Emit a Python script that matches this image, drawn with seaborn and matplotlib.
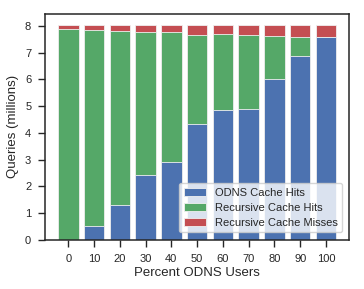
import numpy as np
import pandas as pd
import matplotlib
matplotlib.use('Agg')
import matplotlib.pyplot as plt
import seaborn as sns

# percent of users on ODNS
percent_odns = [0, 10, 20, 30, 40, 50, 60, 70, 80, 90, 100]
# queries in millions, one value per stacked segment
odns_cache_hits = [0.00, 0.51, 1.30, 2.43, 2.90, 4.34, 4.87, 4.90, 6.03, 6.88, 7.58]
recursive_cache_hits = [7.88, 7.34, 6.51, 5.36, 4.89, 3.32, 2.82, 2.76, 1.61, 0.72, 0.00]
recursive_cache_misses = [0.15, 0.18, 0.22, 0.24, 0.24, 0.37, 0.34, 0.37, 0.39, 0.43, 0.45]

sns.set_style('ticks')
plt.rcParams['font.family'] = ['Liberation Sans', 'DejaVu Sans']

blue, green, red = '#4C72B0', '#55A868', '#C44E52'

df = pd.DataFrame({
    'pct': [str(p) for p in percent_odns],
    'odns': odns_cache_hits,
    'rec': recursive_cache_hits,
    'miss': recursive_cache_misses,
})
# cumulative heights so bars can be drawn back to front
df['top_rec'] = df['odns'] + df['rec']
df['top_all'] = df['top_rec'] + df['miss']

fig = plt.figure(figsize=(3.64, 2.89), dpi=100)
ax = fig.add_axes([0.124, 0.170, 0.835, 0.782])

sns.barplot(data=df, x='pct', y='top_all', color=red, saturation=1, width=0.8,
            edgecolor='#f0f0f0', linewidth=0.6, label='Recursive Cache Misses', ax=ax)
sns.barplot(data=df, x='pct', y='top_rec', color=green, saturation=1, width=0.8,
            edgecolor='#f0f0f0', linewidth=0.6, label='Recursive Cache Hits', ax=ax)
sns.barplot(data=df, x='pct', y='odns', color=blue, saturation=1, width=0.8,
            edgecolor='#f0f0f0', linewidth=0.6, label='ODNS Cache Hits', ax=ax)

ax.set_xlim(-0.9, 10.9)
ax.set_ylim(0, 8.45)
ax.set_yticks(range(0, 9))
ax.set_xlabel('Percent ODNS Users', fontsize=9.5, color='#262626', labelpad=2)
ax.set_ylabel('Queries (millions)', fontsize=9.5, color='#262626', labelpad=4)
ax.tick_params(axis='both', labelsize=8, colors='#262626', length=5, width=1, pad=5)
for s in ax.spines.values():
    s.set_visible(True)
    s.set_linewidth(1.1)
    s.set_color('#262626')

handles, labels = ax.get_legend_handles_labels()
leg = ax.legend(handles[::-1], labels[::-1], loc='lower right', fontsize=8,
                frameon=True, handlelength=2.0, borderpad=0.4, labelspacing=0.45,
                handletextpad=0.8, bbox_to_anchor=(0.995, 0.01))
leg.get_frame().set_alpha(0.8)

fig.savefig('out.png', dpi=100)
